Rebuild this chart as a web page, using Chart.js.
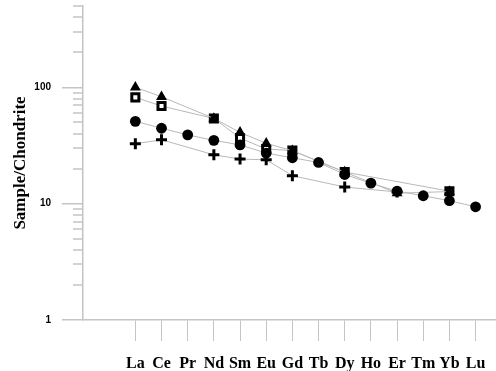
<!DOCTYPE html>
<html>
<head>
<meta charset="utf-8">
<script src="https://cdn.jsdelivr.net/npm/chart.js@4/dist/chart.umd.min.js"></script>
<style>
  html, body { margin: 0; padding: 0; background: #ffffff; }
  #wrap { width: 496px; height: 371px; }
</style>
</head>
<body>
<div id="wrap"><canvas id="c" width="496" height="371"></canvas></div>
<script>
// ---- data ----
const elements = ['La', 'Ce', 'Pr', 'Nd', 'Sm', 'Eu', 'Gd', 'Tb', 'Dy', 'Ho', 'Er', 'Tm', 'Yb', 'Lu'];
const seriesTriangle = [100, 83, null, 54, 41, 33, 28.5, null, 18.7, null, 12.3, null, 12.7, null];
const seriesSquare   = [82, 69, null, 54, 36.6, 29.5, 28.6, null, 18.7, null, null, null, 12.8, null];
const seriesCircle   = [51, 44.5, 39, 35, 32, 27.2, 24.8, 22.6, 17.8, 15, 12.8, 11.7, 10.6, 9.4];
const seriesPlus     = [32.7, 35.4, null, 26.3, 24.2, 23.8, 17.4, null, 13.9, null, 12.6, null, null, null];
const yMajorTicks = [1, 10, 100];
const yMinorTicks = [2, 3, 4, 5, 6, 7, 8, 9, 20, 30, 40, 50, 60, 70, 80, 90, 200, 300, 400, 500];
const yTitle = 'Sample/Chondrite';

const AXIS = '#c4c4c4';
const LINE = '#b8b8b8';

function toPoints(arr) {
  return arr.map((v, i) => ({ x: i, y: v })).filter(p => p.y !== null);
}

const minorTickPlugin = {
  id: 'minorTicks',
  afterDraw(chart) {
    const s = chart.scales.y;
    const ctx = chart.ctx;
    ctx.save();
    ctx.strokeStyle = AXIS;
    ctx.lineWidth = 1.5;
    yMinorTicks.forEach(v => {
      const py = Math.round(s.getPixelForValue(v));
      ctx.beginPath();
      ctx.moveTo(s.right - 10, py);
      ctx.lineTo(s.right, py);
      ctx.stroke();
    });
    ctx.restore();
  }
};

const common = { borderColor: LINE, borderWidth: 1, tension: 0, fill: false };

new Chart(document.getElementById('c'), {
  type: 'line',
  data: {
    datasets: [
      Object.assign({}, common, {
        label: 'plus', data: toPoints(seriesPlus), order: 1,
        pointStyle: 'cross', pointRadius: 5.5, pointBorderWidth: 3,
        pointBorderColor: '#000', pointBackgroundColor: '#000'
      }),
      Object.assign({}, common, {
        label: 'circle', data: toPoints(seriesCircle), order: 2,
        pointStyle: 'circle', pointRadius: 5.4, pointBorderWidth: 0,
        pointBorderColor: '#000', pointBackgroundColor: '#000'
      }),
      Object.assign({}, common, {
        label: 'triangle', data: toPoints(seriesTriangle), order: 3,
        pointStyle: 'triangle', pointRadius: 6.3, pointBorderWidth: 0,
        pointBorderColor: '#000', pointBackgroundColor: '#000'
      }),
      Object.assign({}, common, {
        label: 'square', data: toPoints(seriesSquare), order: 4,
        pointStyle: 'rect', pointRadius: 5, pointBorderWidth: 3,
        pointBorderColor: '#000', pointBackgroundColor: '#fff'
      })
    ]
  },
  options: {
    responsive: false,
    animation: false,
    devicePixelRatio: 1,
    layout: { autoPadding: false, padding: { top: 6, right: 0, left: 0, bottom: 0 } },
    plugins: { legend: { display: false }, tooltip: { enabled: false } },
    scales: {
      x: {
        type: 'linear',
        min: -2,
        max: 13.78,
        afterBuildTicks: (scale) => {
          scale.ticks = elements.map((e, i) => ({ value: i }));
        },
        afterFit: (scale) => {
          scale.height = 51;
          scale.paddingLeft = 0;
          scale.paddingRight = 0;
        },
        ticks: {
          autoSkip: false,
          maxRotation: 0,
          padding: 13,
          color: '#000',
          font: { family: '"Liberation Serif", "Times New Roman", serif', size: 16, weight: 'bold' },
          callback: (v) => elements[v] !== undefined ? elements[v] : ''
        },
        grid: { drawOnChartArea: false, drawTicks: true, tickLength: 21, color: AXIS, lineWidth: 1 },
        border: { display: true, color: AXIS, width: 1.5 }
      },
      y: {
        type: 'logarithmic',
        min: 1,
        max: 500,
        afterBuildTicks: (scale) => {
          scale.ticks = yMajorTicks.map(v => ({ value: v, major: true }));
        },
        afterFit: (scale) => {
          scale.width = 83;
          scale.paddingTop = 0;
          scale.paddingBottom = 0;
        },
        ticks: {
          padding: 11,
          color: '#000',
          font: { family: '"Liberation Sans", Arial, sans-serif', size: 10, weight: 'bold' },
          callback: (v) => String(v)
        },
        grid: { drawOnChartArea: false, drawTicks: true, tickLength: 21, color: AXIS, lineWidth: 1.5 },
        border: { display: true, color: AXIS, width: 1.5 },
        title: {
          display: true,
          text: yTitle,
          color: '#000',
          padding: { top: 10, bottom: 0 },
          font: { family: '"Liberation Serif", "Times New Roman", serif', size: 17, weight: 'bold' }
        }
      }
    }
  },
  plugins: [minorTickPlugin]
});
</script>
</body>
</html>
